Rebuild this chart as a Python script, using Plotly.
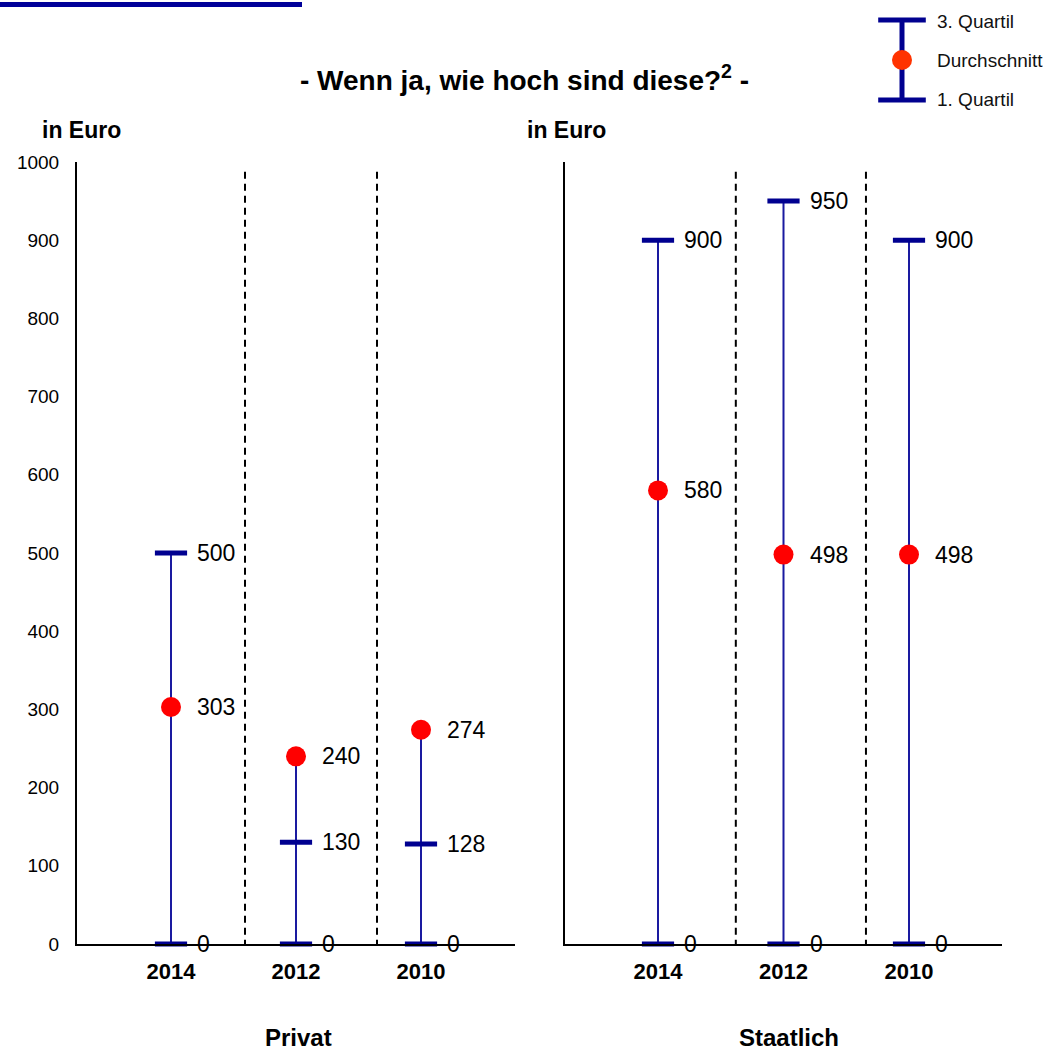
import plotly.graph_objects as go

# ---------------- data ----------------
years = ["2014", "2012", "2010"]
privat_q3 = [500, 130, 128]
privat_mean = [303, 240, 274]
privat_q1 = [0, 0, 0]
staat_q3 = [900, 950, 900]
staat_mean = [580, 498, 498]
staat_q1 = [0, 0, 0]
y_ticks = [0, 100, 200, 300, 400, 500, 600, 700, 800, 900, 1000]
title_text = "<b>- Wenn ja, wie hoch sind diese?<sup>2</sup> -</b>"
panel_names = ["Privat", "Staatlich"]
legend_labels = ["3. Quartil", "Durchschnitt", "1. Quartil"]

W, H = 1049, 1050


def px(xp):
    return xp / W


def py(yp):
    return 1 - yp / H


FONT = "Liberation Sans, Arial, sans-serif"
NAVY = "#000090"
LINE_BLUE = "#1a1aa0"
RED = "#ff0000"

fig = go.Figure()

panels = [
    dict(q3=privat_q3, mean=privat_mean, q1=privat_q1, xa="x", ya="y",
         xaxis="xaxis", yaxis="yaxis", dom=[px(77), px(515)], rng=[-0.752, 2.752],
         seps=[0.592, 1.648], name=panel_names[0], cx=298, ylabels=True, ex=40),
    dict(q3=staat_q3, mean=staat_mean, q1=staat_q1, xa="x2", ya="y2",
         xaxis="xaxis2", yaxis="yaxis2", dom=[px(565), px(1002)], rng=[-0.741, 2.741],
         seps=[0.62, 1.657], name=panel_names[1], cx=789, ylabels=False, ex=525),
]

ydom = [py(944), py(162)]
annotations = []
shapes = []

for p in panels:
    idx = list(range(len(years)))
    # vertical range lines
    for i in idx:
        vals = [p["q1"][i], p["mean"][i], p["q3"][i]]
        fig.add_trace(go.Scatter(
            x=[i, i], y=[min(vals), max(vals)], mode="lines",
            line=dict(color=LINE_BLUE, width=2), xaxis=p["xa"], yaxis=p["ya"],
            showlegend=False, hoverinfo="skip", cliponaxis=False))
    # quartile caps
    for qs in (p["q3"], p["q1"]):
        fig.add_trace(go.Scatter(
            x=idx, y=qs, mode="markers",
            marker=dict(symbol="line-ew", size=23, line=dict(color=NAVY, width=5)),
            xaxis=p["xa"], yaxis=p["ya"], showlegend=False, cliponaxis=False))
    # means
    fig.add_trace(go.Scatter(
        x=idx, y=p["mean"], mode="markers",
        marker=dict(symbol="circle", size=20, color=RED),
        xaxis=p["xa"], yaxis=p["ya"], showlegend=False, cliponaxis=False))
    # y-axis arrow head
    fig.add_trace(go.Scatter(
        x=[p["rng"][0]], y=[1006], mode="markers",
        marker=dict(symbol="triangle-up", size=15, color="black"),
        xaxis=p["xa"], yaxis=p["ya"], showlegend=False, cliponaxis=False,
        hoverinfo="skip"))
    # value labels
    for i in idx:
        for v in (p["q3"][i], p["mean"][i], p["q1"][i]):
            annotations.append(dict(
                x=i, y=v, xref=p["xa"], yref=p["ya"], text=str(v), showarrow=False,
                xanchor="left", yanchor="middle", xshift=24,
                font=dict(family=FONT, size=23, color="black")))
    # dashed separators
    for s in p["seps"]:
        shapes.append(dict(type="line", xref=p["xa"], yref=p["ya"], x0=s, x1=s,
                           y0=-65, y1=992, line=dict(color="black", width=2, dash="7px,5px")))
    # "in Euro"
    annotations.append(dict(x=px(p["ex"]), y=py(130), xref="paper", yref="paper",
                            text="<b>in Euro</b>", showarrow=False, xanchor="left",
                            yanchor="middle", font=dict(family=FONT, size=23, color="black")))
    # panel name
    annotations.append(dict(x=px(p["cx"]), y=py(1037), xref="paper", yref="paper",
                            text="<b>" + p["name"] + "</b>", showarrow=False,
                            xanchor="center", yanchor="middle",
                            font=dict(family=FONT, size=24, color="black")))

    fig.update_layout({
        p["xaxis"]: dict(domain=p["dom"], range=p["rng"], tickvals=idx,
                         ticktext=["<b>" + y + "</b>" for y in years],
                         showline=True, linecolor="black", linewidth=2,
                         showgrid=False, zeroline=False, ticks="", automargin=False,
                         ticklabelstandoff=7, anchor=p["ya"],
                         tickfont=dict(family=FONT, size=22, color="black")),
        p["yaxis"]: dict(domain=ydom, range=[0, 1000], tickvals=y_ticks,
                         showticklabels=p["ylabels"], automargin=False,
                         showline=True, linecolor="black", linewidth=2,
                         showgrid=False, zeroline=False, ticks="",
                         ticklabelstandoff=12, anchor=p["xa"],
                         tickfont=dict(family=FONT, size=19, color="black")),
    })

# ---------------- legend (custom glyph) ----------------
fig.add_trace(go.Scatter(x=[0.5, 0.5], y=[0, 1], mode="lines",
                         line=dict(color=NAVY, width=5), xaxis="x3", yaxis="y3",
                         showlegend=False, hoverinfo="skip", cliponaxis=False))
fig.add_trace(go.Scatter(x=[0.5, 0.5], y=[0, 1], mode="markers",
                         marker=dict(symbol="line-ew", size=34, line=dict(color=NAVY, width=5)),
                         xaxis="x3", yaxis="y3", showlegend=False, hoverinfo="skip",
                         cliponaxis=False))
fig.add_trace(go.Scatter(x=[0.5], y=[0.5], mode="markers",
                         marker=dict(symbol="circle", size=20, color="#ff3300"),
                         xaxis="x3", yaxis="y3", showlegend=False, hoverinfo="skip",
                         cliponaxis=False))
fig.update_layout(
    xaxis3=dict(domain=[px(890), px(914)], range=[0, 1], visible=False, anchor="y3",
                automargin=False),
    yaxis3=dict(domain=[py(100), py(20)], range=[0, 1], visible=False, anchor="x3",
                automargin=False),
)
for lbl, yy in zip(legend_labels, (22, 61, 99)):
    annotations.append(dict(x=px(935), y=py(yy), xref="paper", yref="paper", text=lbl,
                            showarrow=False, xanchor="left", yanchor="middle",
                            font=dict(family=FONT, size=19, color="#111111")))

# title
annotations.append(dict(x=px(524), y=py(78), xref="paper", yref="paper", text=title_text,
                        showarrow=False, xanchor="center", yanchor="middle",
                        font=dict(family=FONT, size=28, color="black")))

# top decorative bar
shapes.append(dict(type="line", xref="paper", yref="paper", x0=px(0), x1=px(302),
                   y0=py(4.5), y1=py(4.5), line=dict(color="#000099", width=5)))

fig.update_layout(
    width=W, height=H, margin=dict(l=0, r=0, t=0, b=0, autoexpand=False),
    paper_bgcolor="white", plot_bgcolor="white",
    annotations=annotations, shapes=shapes, showlegend=False,
    font=dict(family=FONT, color="black"),
)

fig.write_html("out.html", config={"displayModeBar": False},
               post_script="document.body.style.margin='0';document.body.style.padding='0';")
